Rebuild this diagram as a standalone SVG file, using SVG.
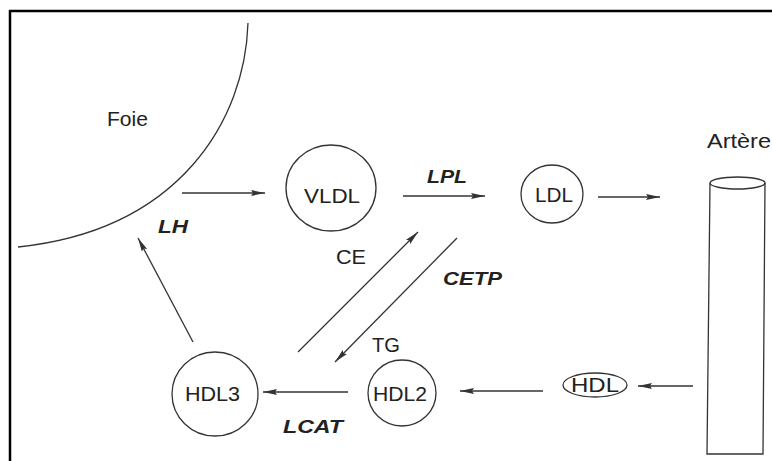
<svg xmlns="http://www.w3.org/2000/svg" width="772" height="461" viewBox="0 0 772 461">
<defs>
<style>
.t{font-family:"Liberation Sans",Arial,sans-serif;font-size:19.5px;fill:#222;}
.b{font-weight:bold;font-style:italic;font-size:18px;}
.s{fill:none;stroke:#333;stroke-width:1.3;}
.c{stroke:#333;stroke-width:1.3;fill:none;marker-end:url(#ah);}
</style>
<marker id="ah" viewBox="0 0 14 6" refX="14" refY="3" markerWidth="14" markerHeight="6" orient="auto" markerUnits="userSpaceOnUse">
<path d="M0,0 L14,3 L0,6 L2,3 Z" fill="#333"/>
</marker>
</defs>
<rect width="772" height="461" fill="#fff"/>
<g id="frame">
<line x1="9" y1="11" x2="772" y2="11" stroke="#000" stroke-width="2.5"/>
<line x1="10" y1="10" x2="10" y2="461" stroke="#000" stroke-width="2.5"/>
</g>
<g id="foie">
<path class="s" d="M248 23 C245 120 180 230 18 247"/>
<text class="t" x="107" y="126" textLength="41" lengthAdjust="spacingAndGlyphs">Foie</text>
</g>
<g id="vldl">
<ellipse class="s" cx="331" cy="188" rx="45" ry="43"/>
<text class="t" x="304" y="203" textLength="56" lengthAdjust="spacingAndGlyphs">VLDL</text>
</g>
<g id="ldl">
<ellipse class="s" cx="552" cy="194" rx="31" ry="29"/>
<text class="t" x="535" y="202" textLength="38" lengthAdjust="spacingAndGlyphs">LDL</text>
</g>
<g id="artere">
<path class="s" d="M710 183 L707 454 L763 454 L765 183"/>
<ellipse class="s" cx="737.5" cy="183" rx="27.5" ry="6"/>
<text class="t" x="707" y="148" textLength="64" lengthAdjust="spacingAndGlyphs">Artère</text>
</g>
<g id="hdl">
<ellipse class="s" cx="595" cy="385" rx="32" ry="12"/>
<text class="t" x="571" y="392" textLength="48" lengthAdjust="spacingAndGlyphs">HDL</text>
</g>
<g id="hdl2">
<ellipse class="s" cx="402" cy="393" rx="34" ry="33"/>
<text class="t" x="373" y="401" textLength="54" lengthAdjust="spacingAndGlyphs">HDL2</text>
</g>
<g id="hdl3">
<ellipse class="s" cx="215" cy="394" rx="43" ry="42"/>
<text class="t" x="185" y="401" textLength="55" lengthAdjust="spacingAndGlyphs">HDL3</text>
</g>
<g id="connectors">
<line class="c" x1="182" y1="193" x2="265" y2="193"/>
<line class="c" x1="403" y1="196" x2="485" y2="196"/>
<line class="c" x1="598" y1="197" x2="660" y2="197"/>
<line class="c" x1="693" y1="386" x2="638" y2="386"/>
<line class="c" x1="543" y1="391" x2="460" y2="391"/>
<line class="c" x1="348" y1="392" x2="263" y2="392"/>
<line class="c" x1="193" y1="342" x2="138" y2="238"/>
<line class="c" x1="298" y1="352" x2="418" y2="232"/>
<line class="c" x1="457" y1="238" x2="335" y2="362"/>
</g>
<g id="labels">
<text class="t b" x="427" y="183" textLength="40" lengthAdjust="spacingAndGlyphs">LPL</text>
<text class="t b" x="158" y="233" textLength="30" lengthAdjust="spacingAndGlyphs">LH</text>
<text class="t" x="336" y="264" textLength="30" lengthAdjust="spacingAndGlyphs">CE</text>
<text class="t b" x="443" y="285" textLength="59" lengthAdjust="spacingAndGlyphs">CETP</text>
<text class="t" x="372" y="352" textLength="28" lengthAdjust="spacingAndGlyphs">TG</text>
<text class="t b" x="283" y="433" textLength="60" lengthAdjust="spacingAndGlyphs">LCAT</text>
</g>
</svg>
